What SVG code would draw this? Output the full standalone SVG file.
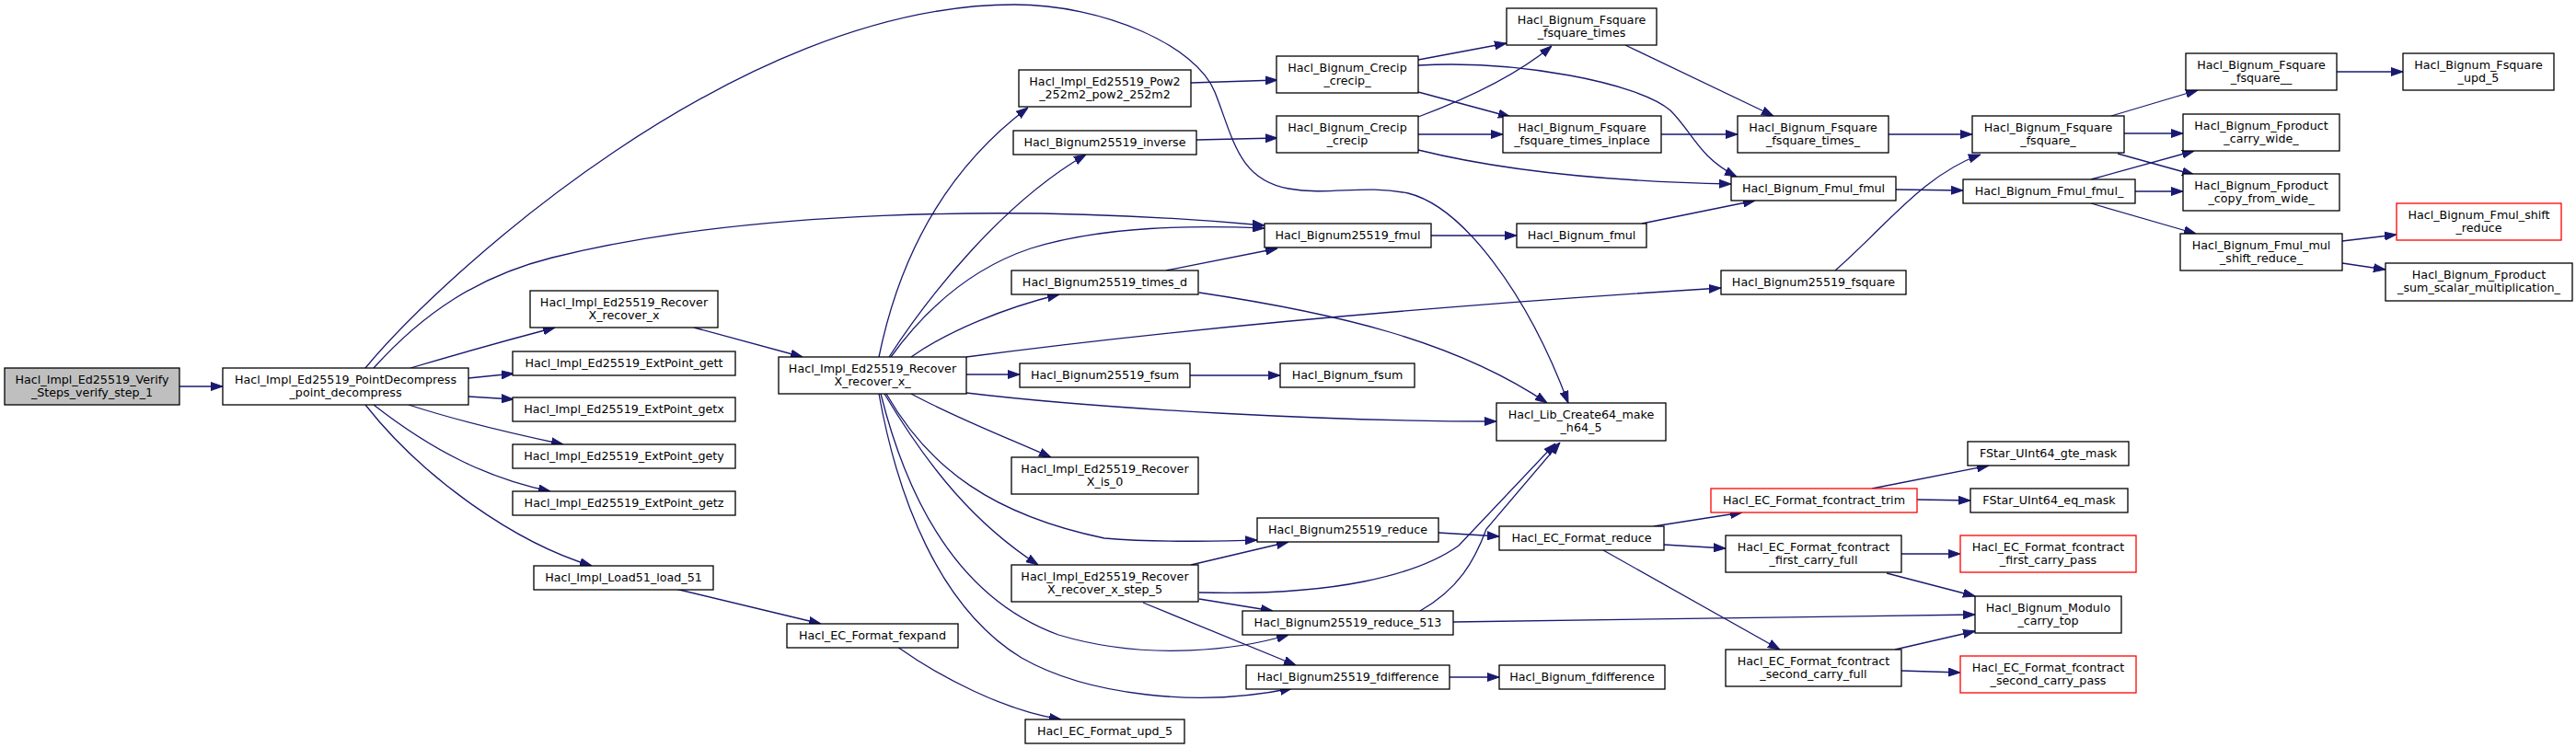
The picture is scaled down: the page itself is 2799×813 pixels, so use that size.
<svg xmlns="http://www.w3.org/2000/svg" width="2799" height="813" viewBox="0 0 2799 813">
<defs>
<marker id="a" markerWidth="13" markerHeight="10" refX="13" refY="5" orient="auto" markerUnits="userSpaceOnUse"><path d="M0,0.5 L13,5 L0,9.5 z" fill="#191970" stroke="#191970" stroke-width="1"/></marker>
<style>
rect{fill:#fff;stroke:#000;stroke-width:1.3}
.r rect{stroke:#f00}
.root rect{fill:#bfbfbf}
text{font-family:"DejaVu Sans","Liberation Sans",sans-serif;font-size:12.7px;text-anchor:middle;fill:#000}
#edges path{fill:none;stroke:#191970;stroke-width:1.3;marker-end:url(#a)}
</style>
</defs>
<rect x="0" y="0" width="2799" height="813" style="fill:#fff;stroke:none"/>
<g id="edges">
<path d="M195,420 L242,420"/>
<path d="M446,400 C500,384 550,370 603,356"/>
<path d="M509,411 L558,406"/>
<path d="M509,431 L558,434"/>
<path d="M444,440 C490,455 560,472 612,483"/>
<path d="M406,440 C470,490 530,520 598,534"/>
<path d="M397,440 C460,520 560,590 643,615"/>
<path d="M397,400 C480,300 800,5 1102,5 C1200,5 1300,50 1320,100 C1340,150 1345,195 1400,205 C1445,213 1480,200 1530,210 C1590,225 1660,320 1704,438"/>
<path d="M406,400 C460,340 520,300 600,280 C800,230 1100,220 1374,245"/>
<path d="M754,356 L872,388"/>
<path d="M955,388 C975,290 1020,190 1117,117"/>
<path d="M966,388 C1010,320 1090,220 1180,168"/>
<path d="M968,388 C1010,330 1060,290 1120,270 C1200,245 1300,245 1374,248"/>
<path d="M990,388 C1030,360 1090,335 1151,320"/>
<path d="M1050,388 C1300,355 1600,330 1870,313"/>
<path d="M1050,407 L1108,407"/>
<path d="M1050,427 C1200,445 1450,458 1626,458"/>
<path d="M990,428 C1040,455 1100,478 1142,497"/>
<path d="M963,428 C1010,510 1080,560 1200,585 C1260,590 1320,588 1366,587"/>
<path d="M961,428 C1010,510 1060,570 1128,614"/>
<path d="M957,428 C985,540 1040,650 1150,690 C1250,720 1350,705 1400,690"/>
<path d="M955,428 C975,540 1020,660 1110,715 C1180,755 1300,770 1404,748"/>
<path d="M1294,614 L1400,589"/>
<path d="M1303,644 C1450,648 1540,625 1585,593 L1690,482"/>
<path d="M1303,651 L1383,664"/>
<path d="M1242,655 L1408,723"/>
<path d="M1543,664 C1585,640 1602,610 1615,575 L1695,481"/>
<path d="M1563,579 L1629,583"/>
<path d="M1579,676 L2146,668"/>
<path d="M1575,736 L1629,736"/>
<path d="M1994,294 C2050,245 2090,190 2152,168"/>
<path d="M1555,256 L1648,256"/>
<path d="M1784,243 L1907,218"/>
<path d="M1293,408 L1391,408"/>
<path d="M1267,294 L1388,270"/>
<path d="M1303,318 C1450,340 1580,370 1681,438"/>
<path d="M1294,90 L1388,87"/>
<path d="M1300,152 L1388,150"/>
<path d="M1541,65 L1637,47"/>
<path d="M1541,71 C1650,65 1780,90 1815,120 C1840,145 1845,170 1887,192"/>
<path d="M1541,100 L1641,127"/>
<path d="M1541,127 C1600,105 1650,80 1686,50"/>
<path d="M1541,146 L1633,146"/>
<path d="M1541,163 C1650,190 1780,198 1881,200"/>
<path d="M1766,49 L1927,126"/>
<path d="M1805,146 L1888,146"/>
<path d="M2052,146 L2143,146"/>
<path d="M2060,206 L2133,207"/>
<path d="M2294,126 L2388,98"/>
<path d="M2308,145 L2372,145"/>
<path d="M2301,167 L2384,190"/>
<path d="M2272,195 L2384,164"/>
<path d="M2320,208 L2372,208"/>
<path d="M2272,221 L2386,254"/>
<path d="M2539,78 L2611,78"/>
<path d="M2545,262 L2604,255"/>
<path d="M2545,286 L2592,293"/>
<path d="M1797,572 L1893,557"/>
<path d="M1808,592 L1875,596"/>
<path d="M1742,598 L1934,706"/>
<path d="M2034,531 L2161,506"/>
<path d="M2083,543 L2141,544"/>
<path d="M2066,602 L2130,602"/>
<path d="M2050,623 L2146,648"/>
<path d="M2059,706 L2146,686"/>
<path d="M2066,729 L2130,731"/>
<path d="M734,640 L892,678"/>
<path d="M975,703 C1020,735 1090,772 1153,782"/>
</g>
<g id="n_verify" class="root"><rect x="5" y="400" width="190" height="40"/><text x="100" y="416.5">Hacl_Impl_Ed25519_Verify</text><text x="100" y="431">_Steps_verify_step_1</text></g>
<g id="n_pd"><rect x="242" y="400" width="267" height="40"/><text x="375.5" y="416.5">Hacl_Impl_Ed25519_PointDecompress</text><text x="375.5" y="431">_point_decompress</text></g>
<g id="n_rx"><rect x="576" y="316" width="204" height="40"/><text x="678" y="332.5">Hacl_Impl_Ed25519_Recover</text><text x="678" y="347">X_recover_x</text></g>
<g id="n_gett"><rect x="557" y="382" width="242" height="26"/><text x="678" y="399">Hacl_Impl_Ed25519_ExtPoint_gett</text></g>
<g id="n_getx"><rect x="557" y="432" width="242" height="26"/><text x="678" y="449">Hacl_Impl_Ed25519_ExtPoint_getx</text></g>
<g id="n_gety"><rect x="557" y="483" width="242" height="26"/><text x="678" y="500">Hacl_Impl_Ed25519_ExtPoint_gety</text></g>
<g id="n_getz"><rect x="557" y="534" width="242" height="26"/><text x="678" y="551">Hacl_Impl_Ed25519_ExtPoint_getz</text></g>
<g id="n_load51"><rect x="580" y="615" width="195" height="26"/><text x="677.5" y="632">Hacl_Impl_Load51_load_51</text></g>
<g id="n_main"><rect x="846" y="388" width="204" height="40"/><text x="948" y="404.5">Hacl_Impl_Ed25519_Recover</text><text x="948" y="419">X_recover_x_</text></g>
<g id="n_pow2"><rect x="1107" y="76" width="187" height="40"/><text x="1200.5" y="92.5">Hacl_Impl_Ed25519_Pow2</text><text x="1200.5" y="107">_252m2_pow2_252m2</text></g>
<g id="n_inverse"><rect x="1101" y="142" width="199" height="26"/><text x="1200.5" y="159">Hacl_Bignum25519_inverse</text></g>
<g id="n_timesd"><rect x="1099" y="294" width="203" height="26"/><text x="1200.5" y="311">Hacl_Bignum25519_times_d</text></g>
<g id="n_fsum25519"><rect x="1108" y="395" width="185" height="26"/><text x="1200.5" y="412">Hacl_Bignum25519_fsum</text></g>
<g id="n_is0"><rect x="1099" y="497" width="203" height="40"/><text x="1200.5" y="513.5">Hacl_Impl_Ed25519_Recover</text><text x="1200.5" y="528">X_is_0</text></g>
<g id="n_step5"><rect x="1099" y="614" width="203" height="40"/><text x="1200.5" y="630.5">Hacl_Impl_Ed25519_Recover</text><text x="1200.5" y="645">X_recover_x_step_5</text></g>
<g id="n_fexpand"><rect x="855" y="678" width="186" height="26"/><text x="948" y="695">Hacl_EC_Format_fexpand</text></g>
<g id="n_ecupd5"><rect x="1114" y="782" width="173" height="26"/><text x="1200.5" y="799">Hacl_EC_Format_upd_5</text></g>
<g id="n_crecip_"><rect x="1387" y="61" width="154" height="40"/><text x="1464" y="77.5">Hacl_Bignum_Crecip</text><text x="1464" y="92">_crecip_</text></g>
<g id="n_crecip"><rect x="1387" y="126" width="154" height="40"/><text x="1464" y="142.5">Hacl_Bignum_Crecip</text><text x="1464" y="157">_crecip</text></g>
<g id="n_fmul25519"><rect x="1374" y="243" width="181" height="26"/><text x="1464.5" y="260">Hacl_Bignum25519_fmul</text></g>
<g id="n_bfsum"><rect x="1391" y="395" width="146" height="26"/><text x="1464" y="412">Hacl_Bignum_fsum</text></g>
<g id="n_reduce25519"><rect x="1366" y="563" width="197" height="26"/><text x="1464.5" y="580">Hacl_Bignum25519_reduce</text></g>
<g id="n_reduce513"><rect x="1350" y="664" width="229" height="26"/><text x="1464.5" y="681">Hacl_Bignum25519_reduce_513</text></g>
<g id="n_fdiff25519"><rect x="1354" y="723" width="221" height="26"/><text x="1464.5" y="740">Hacl_Bignum25519_fdifference</text></g>
<g id="n_fsqtimes"><rect x="1637" y="9" width="163" height="40"/><text x="1718.5" y="25.5">Hacl_Bignum_Fsquare</text><text x="1718.5" y="40">_fsquare_times</text></g>
<g id="n_inplace"><rect x="1633" y="126" width="172" height="40"/><text x="1719" y="142.5">Hacl_Bignum_Fsquare</text><text x="1719" y="157">_fsquare_times_inplace</text></g>
<g id="n_bfmul"><rect x="1648" y="243" width="141" height="26"/><text x="1718.5" y="260">Hacl_Bignum_fmul</text></g>
<g id="n_create64"><rect x="1626" y="438" width="184" height="41"/><text x="1718" y="454.5">Hacl_Lib_Create64_make</text><text x="1718" y="469">_h64_5</text></g>
<g id="n_ecreduce"><rect x="1629" y="572" width="179" height="26"/><text x="1718.5" y="589">Hacl_EC_Format_reduce</text></g>
<g id="n_bfdiff"><rect x="1629" y="723" width="180" height="26"/><text x="1719" y="740">Hacl_Bignum_fdifference</text></g>
<g id="n_fsqtimes_"><rect x="1888" y="126" width="164" height="40"/><text x="1970" y="142.5">Hacl_Bignum_Fsquare</text><text x="1970" y="157">_fsquare_times_</text></g>
<g id="n_fmulfmul"><rect x="1881" y="192" width="179" height="26"/><text x="1970.5" y="209">Hacl_Bignum_Fmul_fmul</text></g>
<g id="n_fsq25519"><rect x="1870" y="294" width="201" height="26"/><text x="1970.5" y="311">Hacl_Bignum25519_fsquare</text></g>
<g id="n_trim" class="r"><rect x="1859" y="531" width="224" height="26"/><text x="1971" y="548">Hacl_EC_Format_fcontract_trim</text></g>
<g id="n_fccfirst"><rect x="1875" y="582" width="191" height="40"/><text x="1970.5" y="598.5">Hacl_EC_Format_fcontract</text><text x="1970.5" y="613">_first_carry_full</text></g>
<g id="n_fccsecond"><rect x="1875" y="706" width="191" height="40"/><text x="1970.5" y="722.5">Hacl_EC_Format_fcontract</text><text x="1970.5" y="737">_second_carry_full</text></g>
<g id="n_fsq_"><rect x="2143" y="126" width="165" height="40"/><text x="2225.5" y="142.5">Hacl_Bignum_Fsquare</text><text x="2225.5" y="157">_fsquare_</text></g>
<g id="n_fmulfmul_"><rect x="2133" y="195" width="187" height="26"/><text x="2226.5" y="212">Hacl_Bignum_Fmul_fmul_</text></g>
<g id="n_gte"><rect x="2138" y="480" width="175" height="26"/><text x="2225.5" y="497">FStar_UInt64_gte_mask</text></g>
<g id="n_eq"><rect x="2141" y="531" width="171" height="26"/><text x="2226.5" y="548">FStar_UInt64_eq_mask</text></g>
<g id="n_fpass" class="r"><rect x="2130" y="582" width="191" height="40"/><text x="2225.5" y="598.5">Hacl_EC_Format_fcontract</text><text x="2225.5" y="613">_first_carry_pass</text></g>
<g id="n_carrytop"><rect x="2146" y="648" width="159" height="40"/><text x="2225.5" y="664.5">Hacl_Bignum_Modulo</text><text x="2225.5" y="679">_carry_top</text></g>
<g id="n_spass" class="r"><rect x="2130" y="713" width="191" height="40"/><text x="2225.5" y="729.5">Hacl_EC_Format_fcontract</text><text x="2225.5" y="744">_second_carry_pass</text></g>
<g id="n_fsq__"><rect x="2375" y="58" width="164" height="40"/><text x="2457" y="74.5">Hacl_Bignum_Fsquare</text><text x="2457" y="89">_fsquare__</text></g>
<g id="n_carrywide"><rect x="2372" y="124" width="170" height="40"/><text x="2457" y="140.5">Hacl_Bignum_Fproduct</text><text x="2457" y="155">_carry_wide_</text></g>
<g id="n_copywide"><rect x="2372" y="189" width="170" height="40"/><text x="2457" y="205.5">Hacl_Bignum_Fproduct</text><text x="2457" y="220">_copy_from_wide_</text></g>
<g id="n_mulshift"><rect x="2369" y="254" width="176" height="40"/><text x="2457" y="270.5">Hacl_Bignum_Fmul_mul</text><text x="2457" y="285">_shift_reduce_</text></g>
<g id="n_upd5"><rect x="2611" y="58" width="164" height="40"/><text x="2693" y="74.5">Hacl_Bignum_Fsquare</text><text x="2693" y="89">_upd_5</text></g>
<g id="n_shiftreduce" class="r"><rect x="2604" y="221" width="179" height="40"/><text x="2693.5" y="237.5">Hacl_Bignum_Fmul_shift</text><text x="2693.5" y="252">_reduce</text></g>
<g id="n_sumscalar"><rect x="2592" y="286" width="203" height="41"/><text x="2693.5" y="302.5">Hacl_Bignum_Fproduct</text><text x="2693.5" y="317">_sum_scalar_multiplication_</text></g>
</svg>
